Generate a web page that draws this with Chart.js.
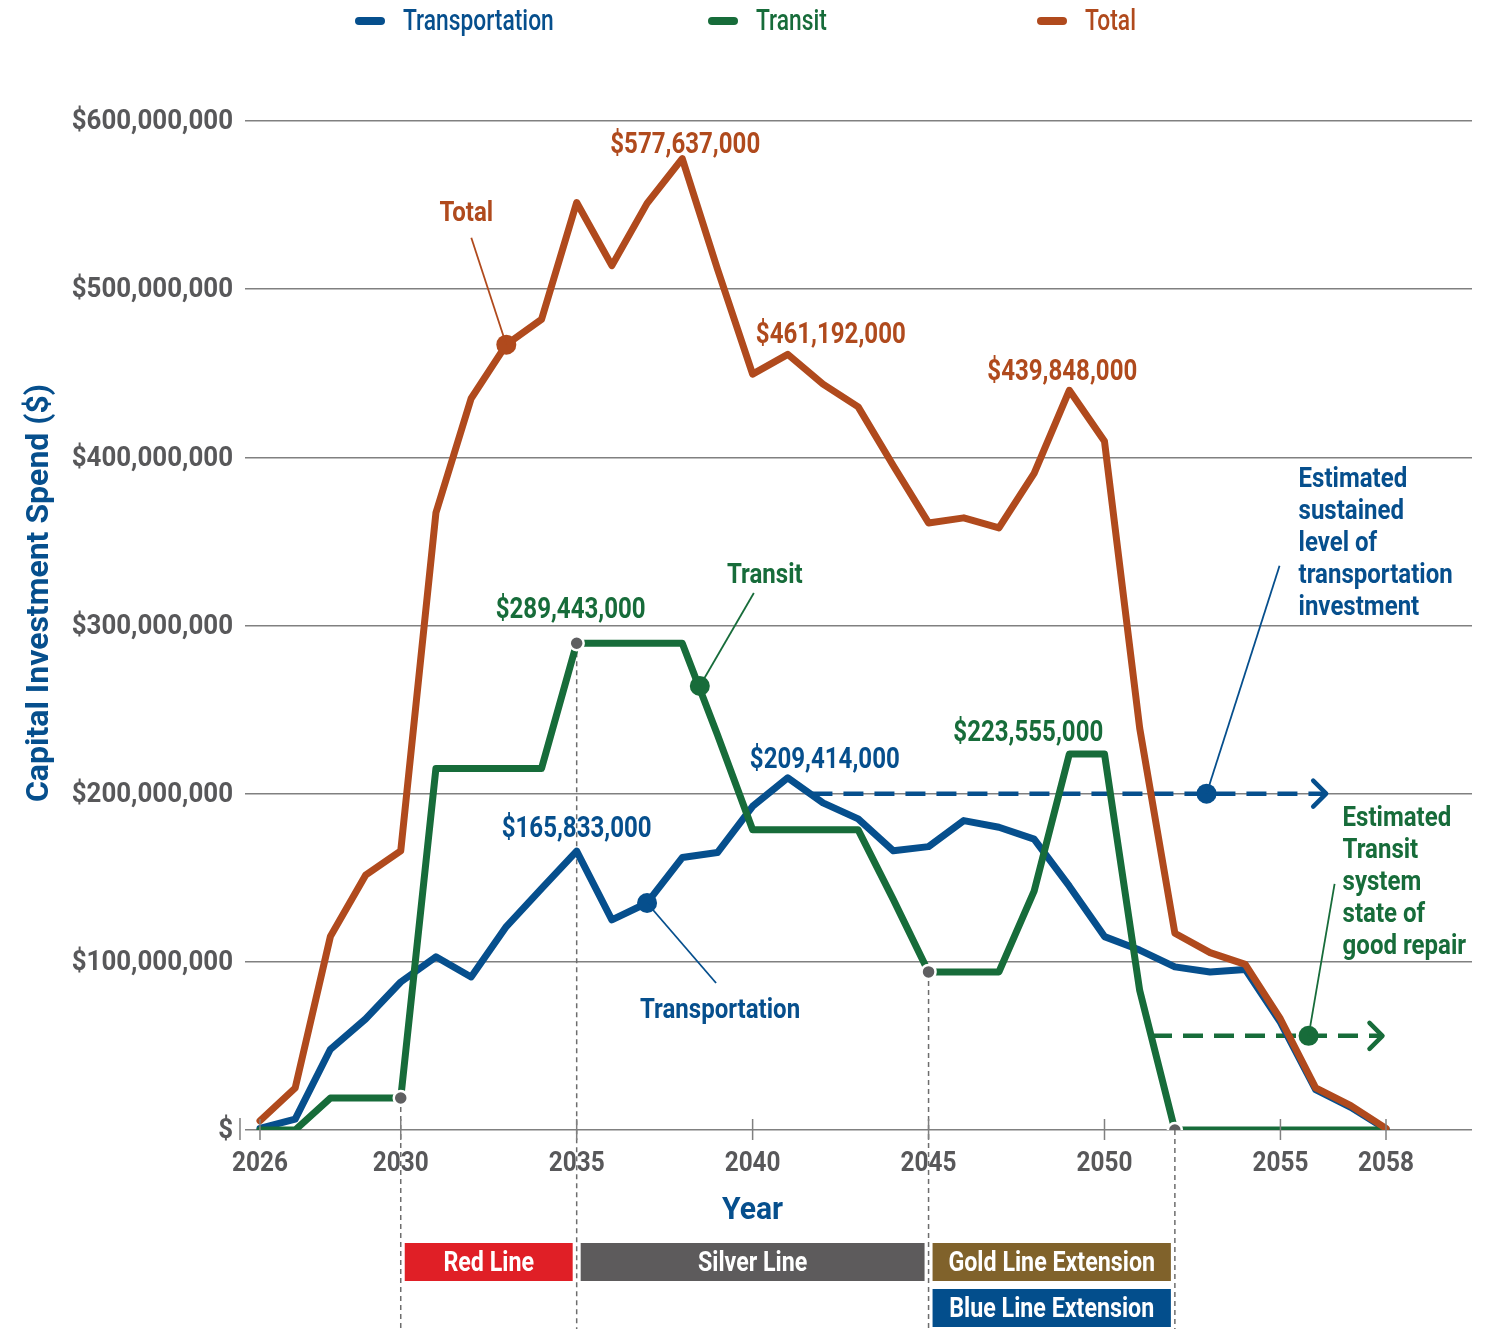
<!DOCTYPE html>
<html>
<head>
<meta charset="utf-8">
<title>Capital Investment Spend</title>
<script src="https://cdn.jsdelivr.net/npm/chart.js@4.4.1/dist/chart.umd.min.js"></script>
<style>
  html, body { margin: 0; padding: 0; background: #fff; }
  #wrap { width: 1492px; height: 1329px; }
</style>
</head>
<body>
<div id="wrap"><canvas id="spendChart" width="1492" height="1329"></canvas></div>
<script>
// yearly spend, $ millions
const years = [2026, 2027, 2028, 2029, 2030, 2031, 2032, 2033, 2034, 2035, 2036,
               2037, 2038, 2039, 2040, 2041, 2042, 2043, 2044, 2045, 2046, 2047,
               2048, 2049, 2050, 2051, 2052, 2053, 2054, 2055, 2056, 2057, 2058];
const transportation = [1, 6.5, 48, 66, 88, 103, 91, 121, 143.5, 165.833, 125,
                        135, 162, 165, 192.5, 209.414, 194.5, 185, 166, 168.5, 184, 180,
                        173, 145, 115, 107, 97, 94, 95.5, 64, 24, 13.5, 0.5];
const transit = [0, 0, 19, 19, 19, 215, 215, 215, 215, 289.443, 289.443,
                 289.443, 289.443, 235, 178.5, 178.5, 178.5, 178.5, 137, 94, 94, 94,
                 142, 223.555, 223.555, 83, 0, 0, 0, 0, 0, 0, 0];
const total = [5.5, 25, 115, 151.5, 166, 367, 435, 467, 482, 551.5, 514,
               551, 577.637, 512, 449.5, 461.192, 443.5, 430, 395, 361, 364, 358,
               390.5, 439.848, 409.5, 239, 117, 105.5, 98.5, 66, 25, 14.5, 1];

// estimated long-run levels (dashed, with arrow)
const sustainedYears = [2041.7, 2056.3];
const sustainedLevel = [200, 200];
const repairYears = [2051.35, 2057.9];
const repairLevel = [56, 56];

// project phases: transit points where a phase begins/ends
const phaseYears = [2030, 2035, 2045, 2052];
const phases = [
  { name: 'Red Line', from: 2030, to: 2035, row: 0, fill: '#e01f26' },
  { name: 'Silver Line', from: 2035, to: 2045, row: 0, fill: '#5d5b5c' },
  { name: 'Gold Line Extension', from: 2045, to: 2052, row: 0, fill: '#80622b' },
  { name: 'Blue Line Extension', from: 2045, to: 2052, row: 1, fill: '#034e8c' }
];

const xTicks = [2026, 2030, 2035, 2040, 2045, 2050, 2055, 2058];
const yTicks = [0, 100, 200, 300, 400, 500, 600];

const BLUE = '#064f8d';
const GREEN = '#176c3a';
const ORANGE = '#b04a1d';
const GRAY_TEXT = '#58585a';
const GRID = '#808080';

// no condensed face installed, so text is squeezed horizontally
const TEXT = {
  yTick:  { size: 28, squeeze: 0.925, weight: 'bold' },
  xTick:  { size: 28, squeeze: 0.87, weight: 'bold' },
  value:  { size: 29, squeeze: 0.83, weight: 'bold' },
  note:   { size: 27, squeeze: 0.89, weight: 'bold' },
  legend: { size: 30, squeeze: 0.76, weight: '500' },
  box:    { size: 28, squeeze: 0.83, weight: 'bold' },
  title:  { size: 32, squeeze: 0.94, weight: 'bold' }
};

const seriesByName = { transportation, transit, total };
const pts = (xs, ys) => xs.map((x, i) => ({ x, y: ys[i] }));
const valueAt = (arr, yr) => arr[years.indexOf(yr)];
const money = v => '$' + Math.round(v * 1e6).toLocaleString('en-US');
const yLabel = v => (v === 0 ? '$' : money(v));

// y is the visual middle of the capitals
function squeezed(ctx, text, x, y, style, color, align = 'center') {
  ctx.save();
  ctx.font = `${style.weight} ${style.size}px Roboto, sans-serif`;
  ctx.fillStyle = color;
  ctx.textAlign = align;
  ctx.textBaseline = 'middle';
  ctx.translate(x, y + style.size * 0.08);
  ctx.scale(style.squeeze, 1);
  ctx.fillText(text, 0, 0);
  ctx.restore();
}

// value labels above peaks
const valueLabels = [
  { series: 'total', year: 2038, color: ORANGE, dx: 3, dy: -15 },
  { series: 'total', year: 2041, color: ORANGE, dx: 43, dy: -21 },
  { series: 'total', year: 2049, color: ORANGE, dx: -7, dy: -20 },
  { series: 'transit', year: 2035, color: GREEN, dx: -6, dy: -35 },
  { series: 'transit', year: 2049, color: GREEN, dx: -41, dy: -23 },
  { series: 'transportation', year: 2041, color: BLUE, dx: 37, dy: -19 },
  { series: 'transportation', year: 2035, color: BLUE, dx: 0, dy: -24 }
];

// callout dots with leader lines and notes
const callouts = [
  { x: 2033, y: 467, color: ORANGE, lead: [-35, -107], text: [-40, -133], align: 'center', lines: ['Total'] },
  { x: 2038.5, y: 264, color: GREEN, lead: [54, -93], text: [65, -112], align: 'center', lines: ['Transit'] },
  { x: 2037, y: 135, color: BLUE, lead: [69, 80], text: [73, 106], align: 'center', lines: ['Transportation'] },
  { x: 2052.9, y: 200, color: BLUE, lead: [73, -228], text: [92, -316], align: 'left',
    lines: ['Estimated', 'sustained', 'level of', 'transportation', 'investment'] },
  { x: 2055.8, y: 56, color: GREEN, lead: [26, -152], text: [34, -219], align: 'left',
    lines: ['Estimated', 'Transit', 'system', 'state of', 'good repair'] }
];

const legendItems = [
  { text: 'Transportation', color: BLUE, x: 355 },
  { text: 'Transit', color: GREEN, x: 708 },
  { text: 'Total', color: ORANGE, x: 1037 }
];

const extras = {
  id: 'extras',
  beforeDatasetsDraw(chart) {
    const { ctx } = chart;
    const meta = chart.getDatasetMeta(4);
    ctx.save();
    // dashed drop lines under phase points
    ctx.strokeStyle = '#6d6d6d';
    ctx.lineWidth = 1.5;
    ctx.setLineDash([5, 4]);
    meta.data.forEach(p => {
      ctx.beginPath();
      ctx.moveTo(p.x, p.y);
      ctx.lineTo(p.x, chart.height);
      ctx.stroke();
    });
    ctx.restore();
  },
  afterDatasetsDraw(chart) {
    const { ctx, scales: { x, y }, chartArea } = chart;
    ctx.save();

    // x tick marks across the axis
    ctx.strokeStyle = GRID;
    ctx.lineWidth = 1.5;
    xTicks.forEach(t => {
      const px = x.getPixelForValue(t);
      ctx.beginPath();
      ctx.moveTo(px, chartArea.bottom - 11);
      ctx.lineTo(px, chartArea.bottom + 10);
      ctx.stroke();
    });
    ctx.beginPath();
    ctx.moveTo(chartArea.left - 5, chartArea.bottom - 12);
    ctx.lineTo(chartArea.left - 5, chartArea.bottom + 10);
    ctx.stroke();

    // arrow heads on the dashed estimates
    [[5, BLUE], [6, GREEN]].forEach(([i, c]) => {
      const tip = chart.getDatasetMeta(i).data[1];
      ctx.strokeStyle = c;
      ctx.lineWidth = 4.5;
      ctx.lineCap = 'round';
      ctx.lineJoin = 'round';
      ctx.beginPath();
      ctx.moveTo(tip.x - 13, tip.y - 13);
      ctx.lineTo(tip.x, tip.y);
      ctx.lineTo(tip.x - 13, tip.y + 13);
      ctx.stroke();
    });

    // leader lines
    ctx.lineWidth = 1.8;
    ctx.lineCap = 'butt';
    callouts.forEach(c => {
      const px = x.getPixelForValue(c.x), py = y.getPixelForValue(c.y);
      ctx.strokeStyle = c.color;
      ctx.beginPath();
      ctx.moveTo(px, py);
      ctx.lineTo(px + c.lead[0], py + c.lead[1]);
      ctx.stroke();
    });
    ctx.restore();

    // note text
    callouts.forEach(c => {
      const px = x.getPixelForValue(c.x), py = y.getPixelForValue(c.y);
      c.lines.forEach((line, k) =>
        squeezed(ctx, line, px + c.text[0], py + c.text[1] + k * 32, TEXT.note, c.color, c.align));
    });

    // peak values
    valueLabels.forEach(l => {
      const v = valueAt(seriesByName[l.series], l.year);
      squeezed(ctx, money(v), x.getPixelForValue(l.year) + l.dx, y.getPixelForValue(v) + l.dy,
        TEXT.value, l.color);
    });
  },
  afterDraw(chart) {
    const { ctx, scales: { x, y }, chartArea } = chart;

    // axis tick labels
    y.ticks.forEach(t => {
      squeezed(ctx, yLabel(t.value), chartArea.left - 12, y.getPixelForValue(t.value) - 1,
        TEXT.yTick, GRAY_TEXT, 'right');
    });
    x.ticks.forEach(t => {
      squeezed(ctx, String(t.value), x.getPixelForValue(t.value), chartArea.bottom + 32,
        TEXT.xTick, GRAY_TEXT);
    });

    // legend
    ctx.save();
    legendItems.forEach(it => {
      ctx.strokeStyle = it.color;
      ctx.lineWidth = 8;
      ctx.lineCap = 'round';
      ctx.beginPath();
      ctx.moveTo(it.x + 4, 21);
      ctx.lineTo(it.x + 26, 21);
      ctx.stroke();
      squeezed(ctx, it.text, it.x + 48, 20, TEXT.legend, it.color, 'left');
    });

    // axis titles
    squeezed(ctx, 'Year', x.getPixelForValue(2040), 1208, TEXT.title, BLUE);
    ctx.translate(40, 593);
    ctx.rotate(-Math.PI / 2);
    ctx.font = 'bold 32px Roboto, sans-serif';
    ctx.fillStyle = BLUE;
    ctx.textAlign = 'center';
    ctx.textBaseline = 'middle';
    ctx.fillText('Capital Investment Spend ($)', 0, 0);
    ctx.restore();

    // phase bars
    phases.forEach(p => {
      const x0 = x.getPixelForValue(p.from) + 4;
      const x1 = x.getPixelForValue(p.to) - 4;
      const top = 1243 + p.row * 46;
      ctx.fillStyle = p.fill;
      ctx.fillRect(x0, top, x1 - x0, 38);
      squeezed(ctx, p.name, (x0 + x1) / 2, top + 19, TEXT.box, '#fff');
    });
  }
};

// lower order is painted on top
const lineStyle = (label, data, color, order) => ({
  label, data, order, borderColor: color, backgroundColor: color,
  borderWidth: 7, pointRadius: 0, tension: 0,
  borderJoinStyle: 'round', borderCapStyle: 'round', fill: false
});

new Chart(document.getElementById('spendChart'), {
  type: 'line',
  data: {
    datasets: [
      lineStyle('Transportation', pts(years, transportation), BLUE, 5),
      lineStyle('Transit', pts(years, transit), GREEN, 4),
      lineStyle('Total', pts(years, total), ORANGE, 3),
      {
        label: 'callouts', data: callouts.map(c => ({ x: c.x, y: c.y })), order: 0,
        showLine: false, pointRadius: 10, pointHoverRadius: 10,
        pointBackgroundColor: callouts.map(c => c.color), pointBorderWidth: 0
      },
      {
        label: 'phase points', data: phaseYears.map(yr => ({ x: yr, y: valueAt(transit, yr) })),
        order: 1, showLine: false, pointRadius: 7, pointBackgroundColor: '#5f5f61',
        pointBorderColor: '#fff', pointBorderWidth: 2.5
      },
      {
        label: 'sustained', data: pts(sustainedYears, sustainedLevel), order: 7, borderColor: BLUE,
        borderWidth: 4.5, borderDash: [20, 11], pointRadius: 0, tension: 0
      },
      {
        label: 'good repair', data: pts(repairYears, repairLevel), order: 6, borderColor: GREEN,
        borderWidth: 4.5, borderDash: [20, 11], pointRadius: 0, tension: 0
      }
    ]
  },
  options: {
    responsive: false,
    animation: false,
    devicePixelRatio: 1,
    layout: { padding: { top: 121, right: 20, left: 0, bottom: 0 } },
    plugins: { legend: { display: false }, tooltip: { enabled: false } },
    scales: {
      x: {
        type: 'linear',
        min: 2025.574,
        max: 2060.444,
        afterBuildTicks: s => { s.ticks = xTicks.map(v => ({ value: v })); },
        afterFit: s => { s.height = 199; },
        grid: { display: false, drawTicks: false },
        border: { display: false },
        ticks: { display: false }
      },
      y: {
        min: 0,
        max: 600,
        afterBuildTicks: s => { s.ticks = yTicks.map(v => ({ value: v })); },
        afterFit: s => { s.width = 245; },
        grid: { color: GRID, lineWidth: 1.5, drawTicks: false },
        border: { display: false },
        ticks: { display: false }
      }
    }
  },
  plugins: [extras]
});
</script>
</body>
</html>
